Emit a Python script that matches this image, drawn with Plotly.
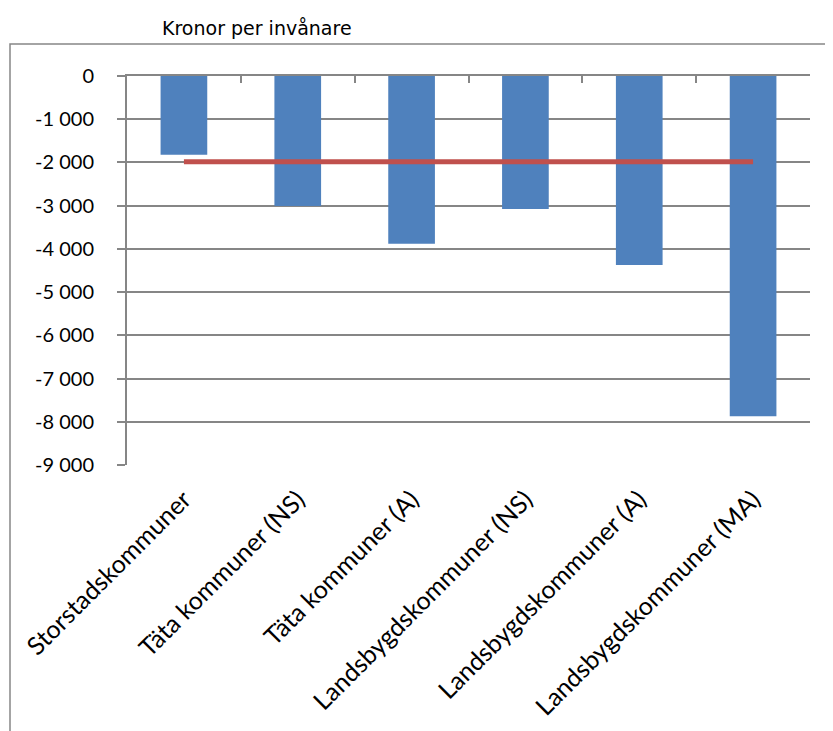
import plotly.graph_objects as go

categories = ["Storstadskommuner", "Täta kommuner (NS)", "Täta kommuner (A)",
              "Landsbygdskommuner (NS)", "Landsbygdskommuner (A)", "Landsbygdskommuner (MA)"]
values = [-1820, -3010, -3880, -3080, -4375, -7870]
average = [-1985] * 6
y_tickvals = [0, -1000, -2000, -3000, -4000, -5000, -6000, -7000, -8000, -9000]
y_ticktext = ["0", "-1 000", "-2 000", "-3 000", "-4 000", "-5 000", "-6 000", "-7 000", "-8 000", "-9 000"]
title_text = "Kronor per invånare"

GRID = "#868686"
OFF = 8  # page body margin
W, H = 833 - OFF, 731 - OFF
ml = 127 - OFF
mt = 76 - OFF
mr = W - (810 - OFF)
mb = H - (465 - OFF)
pw, ph = W - ml - mr, H - mt - mb

fig = go.Figure()
fig.add_trace(go.Bar(x=categories, y=values, marker=dict(color="#4f81bd", line=dict(width=0)),
                     showlegend=False, hoverinfo="x+y"))
fig.add_trace(go.Scatter(x=categories, y=average, mode="lines",
                         line=dict(color="#c0504d", width=5), showlegend=False))
# helper trace for top category axis with boundary ticks
fig.add_trace(go.Scatter(x=categories, y=[None] * 6, xaxis="x2", showlegend=False,
                         hoverinfo="skip"))

def px_x(px):
    return (px - OFF - ml) / pw

def px_y(py):
    return (H - mb - (py - OFF)) / ph

fig.update_layout(
    width=W, height=H,
    margin=dict(l=ml, r=mr, t=mt, b=mb, pad=0),
    paper_bgcolor="white", plot_bgcolor="white",
    bargap=0.59,
    font=dict(family="Lato, sans-serif", color="#000000"),
    xaxis=dict(
        type="category", tickangle=-45, ticks="", showline=False, showgrid=False,
        tickfont=dict(family="Lato", size=25, color="#000000"),
        ticklabelstandoff=14,
        range=[-0.5, 5.5],
    ),
    xaxis2=dict(
        type="category", overlaying="x", matches="x", side="top", anchor="y",
        showticklabels=False, ticks="inside", ticklen=7, tickwidth=2, tickcolor=GRID,
        tickson="boundaries", showline=True, linecolor=GRID, linewidth=2, showgrid=False,
    ),
    yaxis=dict(
        range=[-9000, 0], tickvals=y_tickvals, ticktext=y_ticktext,
        showgrid=True, gridcolor=GRID, gridwidth=2,
        ticks="outside", ticklen=8, tickwidth=2, tickcolor=GRID,
        showline=True, linecolor=GRID, linewidth=2, zeroline=False,
        tickfont=dict(family="Lato", size=20, color="#000000"),
        ticklabelstandoff=19,
    ),
    shapes=[dict(type="rect", xref="paper", yref="paper",
                 x0=px_x(10), x1=px_x(900), y0=px_y(800), y1=px_y(44),
                 line=dict(color=GRID, width=1.5), fillcolor="rgba(0,0,0,0)", layer="below")],
    annotations=[dict(text=title_text, xref="paper", yref="paper",
                      x=px_x(160), y=px_y(28), xanchor="left", yanchor="middle",
                      showarrow=False, font=dict(family="DejaVu Sans", size=19, color="#000000"))],
)

fig.write_html("out.html")
